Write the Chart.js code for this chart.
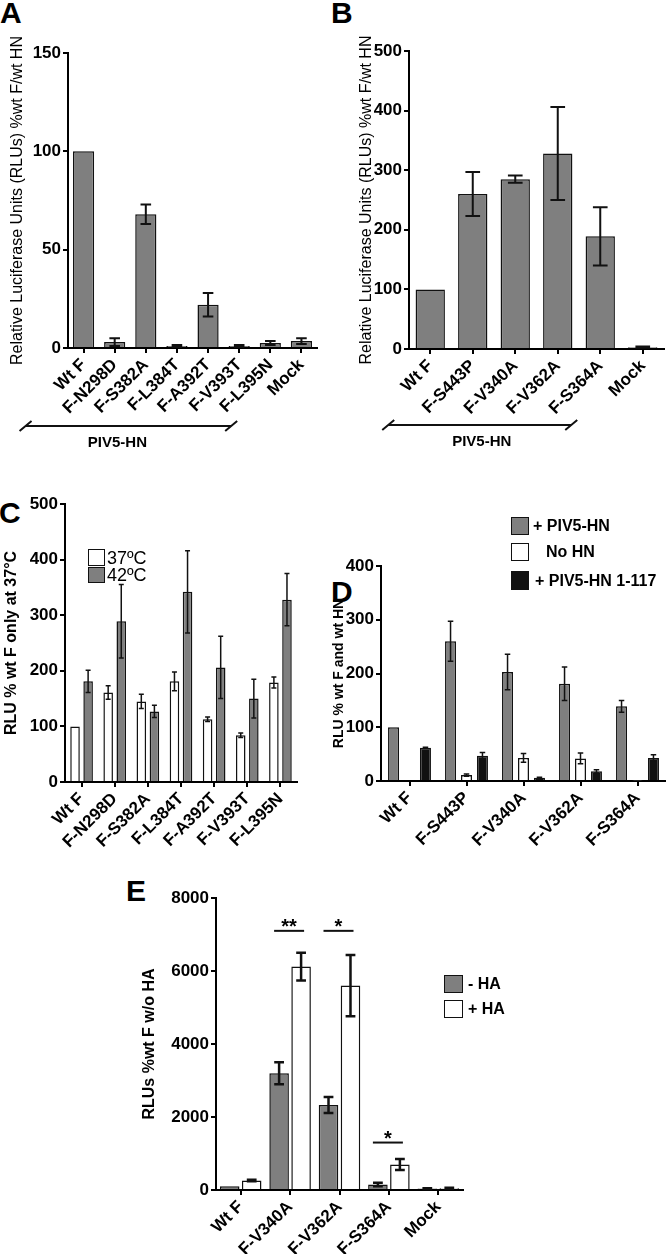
<!DOCTYPE html>
<html>
<head>
<meta charset="utf-8">
<script src="https://cdn.jsdelivr.net/npm/chart.js@4.4.1/dist/chart.umd.min.js"></script>
<style>
  body { margin: 0; width: 666px; height: 1254px; position: relative; background: #fff; overflow: hidden;
         font-family: 'Liberation Sans', Arial, sans-serif; color: #000; }
  .box { position: absolute; }
  .lbl { position: absolute; line-height: 1; white-space: pre; }
  .big { font-size: 30px; font-weight: bold; }
  .sw { position: absolute; box-sizing: border-box; border: 1.5px solid #111; }
</style>
</head>
<body>
<div class="lbl big" style="left:0;top:-2px">A</div>
<div class="lbl big" style="left:331px;top:-2px">B</div>
<div class="lbl big" style="left:-1px;top:498px">C</div>
<div class="lbl big" style="left:331px;top:577px">D</div>
<div class="lbl big" style="left:126px;top:876px">E</div>

<div class="box" style="left:4px;top:24px;width:326px;height:431px"><canvas id="cA"></canvas></div>
<div class="box" style="left:353px;top:24px;width:313px;height:431px"><canvas id="cB"></canvas></div>
<div class="box" style="left:0;top:480px;width:320px;height:390px"><canvas id="cC"></canvas></div>
<div class="box" style="left:326px;top:540px;width:340px;height:330px"><canvas id="cD"></canvas></div>
<div class="box" style="left:136px;top:870px;width:344px;height:384px"><canvas id="cE"></canvas></div>

<!-- legend C -->
<div class="sw" style="left:88px;top:549px;width:17px;height:17px;background:#fff"></div>
<div class="sw" style="left:88px;top:567px;width:17px;height:16px;background:#7f7f7f"></div>
<div class="lbl" style="left:107px;top:549px;font-size:18px">37ºC</div>
<div class="lbl" style="left:107px;top:566px;font-size:18px">42ºC</div>

<!-- legend D -->
<div class="sw" style="left:511px;top:517px;width:18px;height:18px;background:#7f7f7f"></div>
<div class="sw" style="left:511px;top:543px;width:18px;height:18px;background:#fff"></div>
<div class="sw" style="left:511px;top:571px;width:18px;height:19px;background:#111"></div>
<div class="lbl" style="left:533px;top:518px;font-size:16px;font-weight:bold">+ PIV5-HN</div>
<div class="lbl" style="left:546px;top:544px;font-size:16px;font-weight:bold">No HN</div>
<div class="lbl" style="left:535px;top:573px;font-size:16px;font-weight:bold">+ PIV5-HN 1-117</div>

<!-- legend E -->
<div class="sw" style="left:444px;top:975px;width:19px;height:18px;background:#7f7f7f"></div>
<div class="sw" style="left:444px;top:1000px;width:19px;height:18px;background:#fff"></div>
<div class="lbl" style="left:468px;top:976px;font-size:16px;font-weight:bold">- HA</div>
<div class="lbl" style="left:468px;top:1001px;font-size:16px;font-weight:bold">+ HA</div>

<script>
// ---- data ----
const labelsA = ['Wt F', 'F-N298D', 'F-S382A', 'F-L384T', 'F-A392T', 'F-V393T', 'F-L395N', 'Mock'];
const valuesA = [100, 3, 68, 1, 22, 1, 2.5, 3.5];
const errorsA = [0, 2, 5, 0.5, 6, 0.5, 1, 1.5];
const ticksA = [0, 50, 100, 150];

const labelsB = ['Wt F', 'F-S443P', 'F-V340A', 'F-V362A', 'F-S364A', 'Mock'];
const valuesB = [100, 260, 285, 328, 189, 3];
const errorsB = [0, 37, 6, 78, 49, 1];
const ticksB = [0, 100, 200, 300, 400, 500];

const labelsC = ['Wt F', 'F-N298D', 'F-S382A', 'F-L384T', 'F-A392T', 'F-V393T', 'F-L395N'];
const values37 = [100, 161, 145, 181, 113, 84, 179];
const errors37 = [0, 12, 13, 17, 4, 4, 10];
const values42 = [181, 289, 127, 342, 206, 150, 328];
const errors42 = [20, 66, 11, 74, 56, 35, 47];
const ticksC = [0, 100, 200, 300, 400, 500];

const labelsD = ['Wt F', 'F-S443P', 'F-V340A', 'F-V362A', 'F-S364A'];
const valuesHN = [100, 260, 203, 181, 139];
const errorsHN = [0, 37, 33, 31, 11];
const valuesNoHN = [null, 11, 43, 42, 1];
const errorsNoHN = [0, 2, 8, 10, 0];
const valuesHN117 = [62, 47, 6, 18, 43];
const errorsHN117 = [1, 6, 1, 3, 6];
const ticksD = [0, 100, 200, 300, 400];

const labelsE = ['Wt F', 'F-V340A', 'F-V362A', 'F-S364A', 'Mock'];
const valuesMinusHA = [100, 3200, 2330, 150, 40];
const errorsMinusHA = [0, 300, 220, 50, 10];
const valuesPlusHA = [260, 6120, 5600, 700, 50];
const errorsPlusHA = [20, 380, 840, 150, 15];
const ticksE = [0, 2000, 4000, 6000, 8000];
const sigMarks = ['**', '*', '*'];
const sigIndex = [1, 2, 3];
const sigLevel = [7100, 7100, 1300];

// ---- setup ----
Chart.defaults.font.family = "'Liberation Sans', Arial, sans-serif";
Chart.defaults.color = '#000';
Chart.defaults.animation = false;
Chart.defaults.plugins.legend.display = false;
Chart.defaults.plugins.tooltip.enabled = false;

const GREY = '#7f7f7f';

const errorBars = {
  id: 'errorBars',
  afterDatasetsDraw(chart) {
    const ctx = chart.ctx;
    const y = chart.scales.y;
    chart.data.datasets.forEach((ds, i) => {
      if (!ds.errors) return;
      chart.getDatasetMeta(i).data.forEach((bar, j) => {
        const e = ds.errors[j], v = ds.data[j];
        if (!e || v == null) return;
        const top = y.getPixelForValue(v + e);
        const bot = y.getPixelForValue(Math.max(v - e, 0));
        const cap = Math.max(5, bar.width * 0.5) / 2;
        ctx.save();
        ctx.strokeStyle = '#111';
        ctx.lineWidth = ds.errWidth || 1.5;
        ctx.beginPath();
        ctx.moveTo(bar.x, top); ctx.lineTo(bar.x, bot);
        ctx.moveTo(bar.x - cap, top); ctx.lineTo(bar.x + cap, top);
        ctx.moveTo(bar.x - cap, bot); ctx.lineTo(bar.x + cap, bot);
        ctx.stroke();
        ctx.restore();
      });
    });
  }
};

// bracket with "PIV5-HN" under the labels (A and B)
const bracket = {
  id: 'bracket',
  afterDraw(chart, args, o) {
    if (!o.show) return;
    const ctx = chart.ctx, x = chart.scales.x;
    const x1 = x.getPixelForValue(o.from) - o.padL;
    const x2 = x.getPixelForValue(o.to) + o.padR;
    const yy = chart.chartArea.bottom + o.dy;
    ctx.save();
    ctx.strokeStyle = '#111';
    ctx.lineWidth = 2;
    ctx.beginPath();
    ctx.moveTo(x1, yy); ctx.lineTo(x2, yy);
    ctx.moveTo(x1 - 6, yy + 5); ctx.lineTo(x1 + 6, yy - 5);
    ctx.moveTo(x2 - 6, yy + 5); ctx.lineTo(x2 + 6, yy - 5);
    ctx.stroke();
    ctx.font = "bold 15px 'Liberation Sans', Arial";
    ctx.fillStyle = '#000';
    ctx.textAlign = 'center';
    ctx.fillText('PIV5-HN', (x1 + x2) / 2 + o.tx, yy + 21);
    ctx.restore();
  }
};

// significance lines in E
const sigLines = {
  id: 'sigLines',
  afterDraw(chart, args, o) {
    if (!o.show) return;
    const ctx = chart.ctx, x = chart.scales.x, y = chart.scales.y;
    ctx.save();
    ctx.strokeStyle = '#111';
    ctx.lineWidth = 2;
    ctx.fillStyle = '#000';
    ctx.font = "bold 20px 'Liberation Sans', Arial";
    ctx.textAlign = 'center';
    sigIndex.forEach((ix, k) => {
      const cx = x.getPixelForValue(ix);
      const yy = y.getPixelForValue(sigLevel[k]);
      ctx.beginPath();
      ctx.moveTo(cx - 16, yy); ctx.lineTo(cx + 14, yy);
      ctx.stroke();
      ctx.fillText(sigMarks[k], cx - 1, yy + 2);
    });
    ctx.restore();
  }
};

function axes(o) {
  return {
    x: {
      offset: true,
      grid: { offset: false, drawOnChartArea: false, tickLength: 5, color: '#000', lineWidth: 2 },
      border: { color: '#000', width: 2 },
      ticks: { autoSkip: false, minRotation: 45, maxRotation: 45, padding: 2,
               font: { size: 17, weight: 'bold' }, color: '#000' },
      afterFit: s => { s.height = o.xh; }
    },
    y: {
      min: 0, max: o.ticks[o.ticks.length - 1],
      afterBuildTicks: s => { s.ticks = o.ticks.map(v => ({ value: v })); },
      grid: { drawOnChartArea: false, tickLength: 5, color: '#000', lineWidth: 2 },
      border: { color: '#000', width: 2 },
      ticks: { padding: 2, font: { size: 17, weight: 'bold' }, color: '#000', callback: v => String(v) },
      title: { display: true, text: o.title, font: o.tfont, color: '#000', padding: { top: o.tp, bottom: 0 } },
      afterFit: s => { s.width = o.yw; }
    }
  };
}

function bars(data, errors, color, bp, cp, ew) {
  return { data: data, errors: errors, errWidth: ew, backgroundColor: color, borderColor: '#111',
           borderWidth: 1.5, barPercentage: bp, categoryPercentage: cp };
}

const plugins = [errorBars, bracket, sigLines];

// A
new Chart(document.getElementById('cA'), {
  type: 'bar',
  data: { labels: labelsA, datasets: [bars(valuesA, errorsA, GREY, 0.68, 1, 2)] },
  options: {
    responsive: true, maintainAspectRatio: false,
    layout: { padding: { top: 29, right: 13, left: 0, bottom: 0 } },
    scales: axes({ ticks: ticksA, xh: 107, yw: 64, tp: 4,
                   title: 'Relative Luciferase Units (RLUs) %wt F/wt HN', tfont: { size: 16 } }),
    plugins: { bracket: { show: true, from: 0, to: 5, padL: 58, padR: -8, dy: 78, tx: -11 } }
  },
  plugins: plugins
});

// B
new Chart(document.getElementById('cB'), {
  type: 'bar',
  data: { labels: labelsB, datasets: [bars(valuesB, errorsB, GREY, 0.69, 1, 2)] },
  options: {
    responsive: true, maintainAspectRatio: false,
    layout: { padding: { top: 27, right: 2, left: 0, bottom: 0 } },
    scales: axes({ ticks: ticksB, xh: 106, yw: 56, tp: 4,
                   title: 'Relative Luciferase Units (RLUs) %wt F/wt HN', tfont: { size: 16 } }),
    plugins: { bracket: { show: true, from: 0, to: 4, padL: 42, padR: -29, dy: 76, tx: 2 } }
  },
  plugins: plugins
});

// C
new Chart(document.getElementById('cC'), {
  type: 'bar',
  data: { labels: labelsC, datasets: [
    bars(values37, errors37, '#fff', 0.73, 0.79, 1.5),
    bars(values42, errors42, GREY, 0.73, 0.79, 1.5)
  ] },
  options: {
    responsive: true, maintainAspectRatio: false,
    layout: { padding: { top: 24, right: 23, left: 0, bottom: 0 } },
    scales: axes({ ticks: ticksC, xh: 88, yw: 65, tp: 2,
                   title: 'RLU % wt F only at 37°C', tfont: { size: 16, weight: 'bold' } })
  },
  plugins: plugins
});

// D
new Chart(document.getElementById('cD'), {
  type: 'bar',
  data: { labels: labelsD, datasets: [
    bars(valuesHN, errorsHN, GREY, 0.69, 0.84, 1.5),
    bars(valuesNoHN, errorsNoHN, '#fff', 0.69, 0.84, 1.5),
    bars(valuesHN117, errorsHN117, '#111', 0.69, 0.84, 1.5)
  ] },
  options: {
    responsive: true, maintainAspectRatio: false,
    layout: { padding: { top: 26, right: 0, left: 0, bottom: 0 } },
    scales: axes({ ticks: ticksD, xh: 89, yw: 55, tp: 5,
                   title: 'RLU % wt F and wt HN', tfont: { size: 14, weight: 'bold' } })
  },
  plugins: plugins
});

// E
new Chart(document.getElementById('cE'), {
  type: 'bar',
  data: { labels: labelsE, datasets: [
    bars(valuesMinusHA, errorsMinusHA, GREY, 0.89, 0.89, 2.5),
    bars(valuesPlusHA, errorsPlusHA, '#fff', 0.89, 0.89, 2.5)
  ] },
  options: {
    responsive: true, maintainAspectRatio: false,
    layout: { padding: { top: 28, right: 17, left: 0, bottom: 0 } },
    scales: axes({ ticks: ticksE, xh: 64, yw: 80, tp: 4,
                   title: 'RLUs %wt F w/o HA', tfont: { size: 16, weight: 'bold' } }),
    plugins: { sigLines: { show: true } }
  },
  plugins: plugins
});
</script>
</body>
</html>
